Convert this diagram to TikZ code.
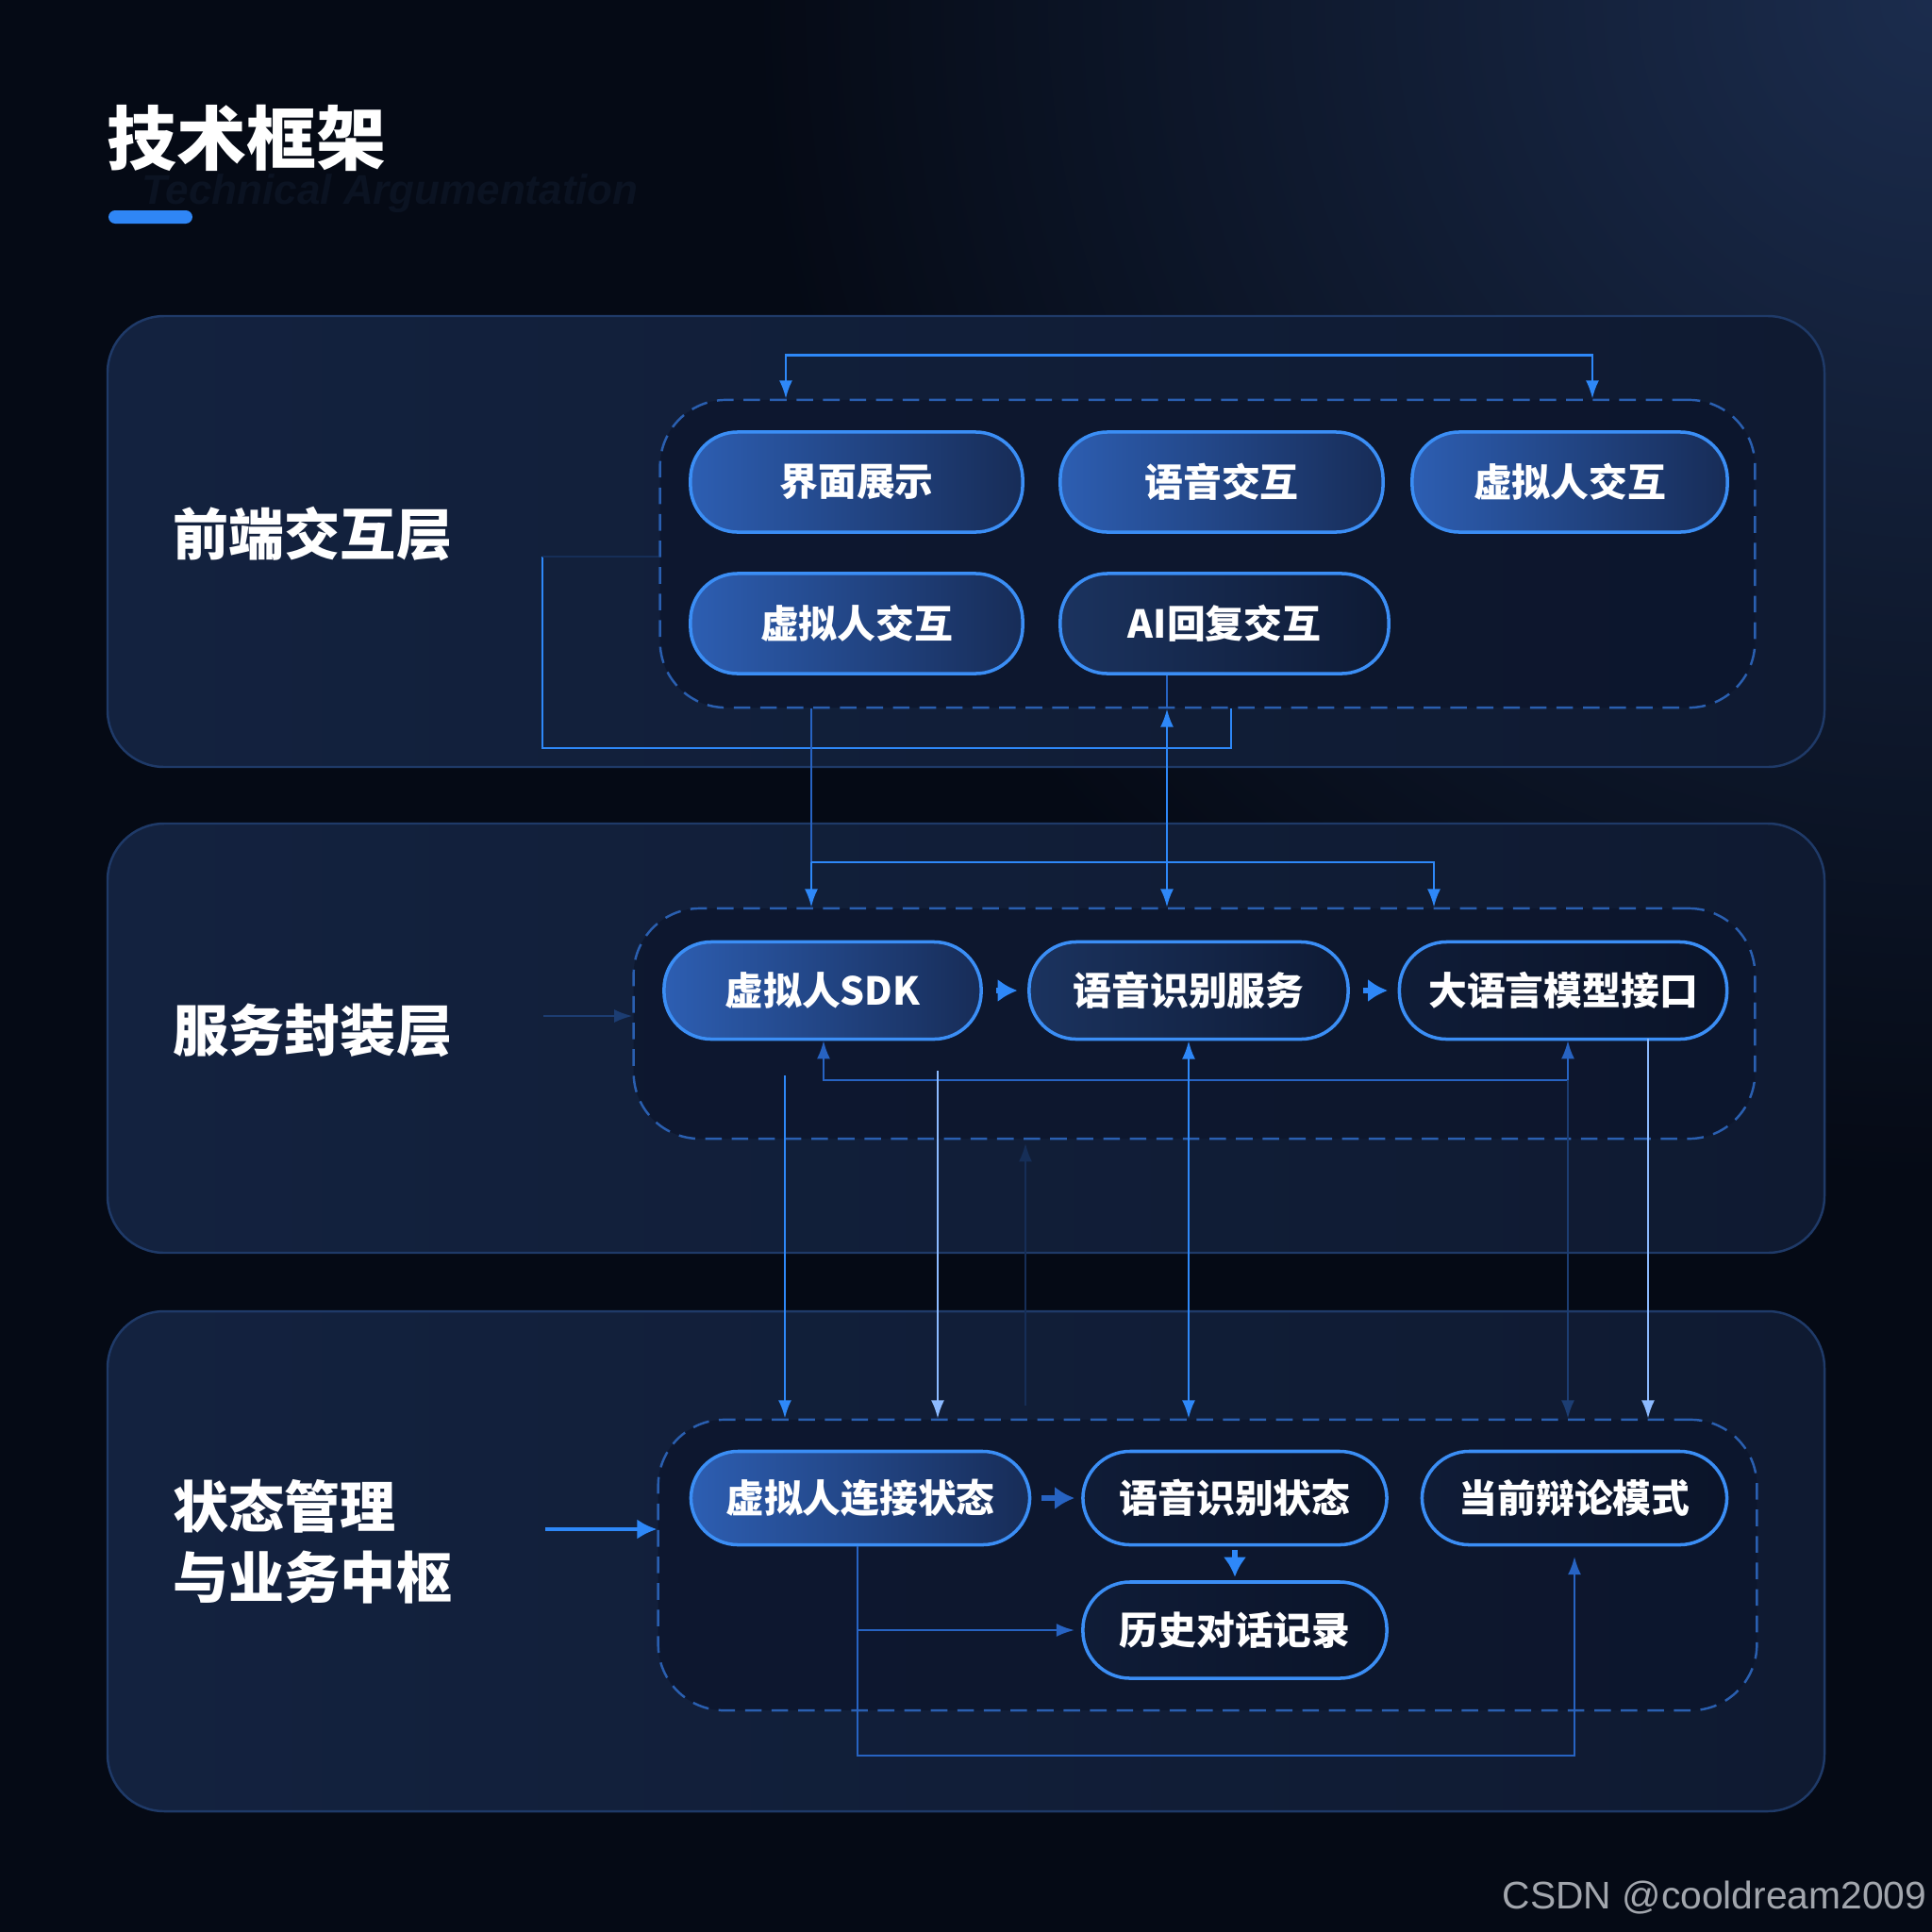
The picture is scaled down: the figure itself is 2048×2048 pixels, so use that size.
\documentclass[tikz,border=0pt]{standalone}
\usepackage{fontspec}
\setmainfont{Liberation Sans}
\newfontfamily\cjk{Noto Sans CJK SC}
\usetikzlibrary{arrows.meta,calc}
\definecolor{bgA}{HTML}{050A15}
\definecolor{bgGlow}{HTML}{1B2C4D}
\definecolor{panelL}{HTML}{13223F}
\definecolor{panelR}{HTML}{0F1A31}
\definecolor{panelEdge}{HTML}{1F3A68}
\definecolor{dashC}{HTML}{2A5FB0}
\definecolor{innerF}{HTML}{0C152B}
\definecolor{pillEdge}{HTML}{3B8EF5}
\definecolor{pillL}{HTML}{2D5EB2}
\definecolor{pillR}{HTML}{172C57}
\definecolor{pillDL}{HTML}{1B335F}
\definecolor{pillDR}{HTML}{0E1A34}
\definecolor{pillNL}{HTML}{0F1C37}
\definecolor{pillNR}{HTML}{0B1429}
\definecolor{lnBright}{HTML}{2E88F8}
\definecolor{lnMid}{HTML}{2763C2}
\definecolor{lnDim}{HTML}{1C3D72}
\definecolor{lnFaint}{HTML}{162E57}
\definecolor{lnLight}{HTML}{8CBAFF}
\definecolor{titleBar}{HTML}{2F86F6}
\definecolor{wmC}{HTML}{A2A6AD}
\definecolor{ghost}{HTML}{0B1322}
\tikzset{
  layerlabel/.style={anchor=west, inner sep=0pt, text=white, align=left,
    font=\cjk\bfseries\fontsize{16.8}{21.3}\selectfont},
  pillbase/.style={rounded corners=0.5cm, draw=pillEdge, line width=1pt,
    text=white, inner sep=0pt, font=\cjk\bfseries\fontsize{11.6}{14}\selectfont},
  pillblue/.style={pillbase, left color=pillL, right color=pillR},
  pilldark/.style={pillbase, left color=pillDL, right color=pillDR},
  pillnight/.style={pillbase, left color=pillNL, right color=pillNR},
  dbox/.style={draw=dashC, dash pattern=on 5pt off 3pt, line width=0.7pt,
    rounded corners=0.7cm, fill=innerF, fill opacity=0.7, draw opacity=1},
  panelbox/.style={rounded corners=0.6cm, left color=panelL, right color=panelR,
    draw=panelEdge, line width=0.7pt},
  tip/.style={-{Latex[length=5.5pt,width=4pt]}},
  tipboth/.style={{Latex[length=5.5pt,width=4pt]}-{Latex[length=5.5pt,width=4pt]}},
  lnB/.style={draw=lnBright, line width=0.7pt},
  lnM/.style={draw=lnMid, line width=0.7pt},
  lnD/.style={draw=lnDim, line width=0.7pt},
  lnF/.style={draw=lnFaint, line width=0.6pt},
  lnL/.style={draw=lnLight, line width=0.7pt},
  fat/.style={line width=1.6pt, -{Latex[length=6pt,width=7pt]}},
}
\begin{document}
\begin{tikzpicture}[x=0.01cm,y=-0.01cm]
\useasboundingbox (0,0) rectangle (2048,2048);
% background
\fill[bgA] (0,0) rectangle (2048,2048);
\begin{scope}
\clip (0,0) rectangle (2048,2048);
\shade[inner color=bgGlow, outer color=bgA] (2048,0) circle (1250);
\end{scope}

% title
\node[anchor=base west, inner sep=0pt, text=ghost, font=\bfseries\itshape\fontsize{12.5}{14}\selectfont] (ghosttext) at (150,216) {Technical Argumentation};
\node[anchor=west, inner sep=0pt, text=white, font=\cjk\bfseries\fontsize{21}{24}\selectfont] (title) at (113,146) {技术框架};
\fill[titleBar, rounded corners=2pt] (115,223) rectangle (204,237);

% panels
\path[panelbox] (114,335) rectangle (1934,813);
\path[panelbox] (114,873) rectangle (1934,1328);
\path[panelbox] (114,1390) rectangle (1934,1920);

% layer labels
\node[layerlabel] (L1) at (183,566) {前端交互层};
\node[layerlabel] (L2) at (183,1092) {服务封装层};
\node[layerlabel] (L3) at (183,1634) {状态管理\\与业务中枢};

% dashed groups
\node[dbox, minimum width=11.6cm, minimum height=3.26cm] (g1) at (1280,587) {};
\node[dbox, minimum width=11.88cm, minimum height=2.44cm] (g2) at (1266,1085) {};
\node[dbox, minimum width=11.64cm, minimum height=3.08cm] (g3) at (1280,1659) {};

% panel 1 nodes
\node[pillblue, minimum width=3.52cm, minimum height=1.06cm] (p1a) at (908,511) {界面展示};
\node[pillblue, minimum width=3.42cm, minimum height=1.06cm] (p1b) at (1295,511) {语音交互};
\node[pillblue, minimum width=3.34cm, minimum height=1.06cm] (p1c) at (1664,511) {虚拟人交互};
\node[pillblue, minimum width=3.52cm, minimum height=1.06cm] (p1d) at (908,661) {虚拟人交互};
\node[pilldark, minimum width=3.48cm, minimum height=1.06cm] (p1e) at (1298,661) {AI回复交互};

% panel 2 nodes
\node[pillblue, minimum width=3.36cm, minimum height=1.03cm] (p2a) at (872,1050) {虚拟人SDK};
\node[pilldark, minimum width=3.38cm, minimum height=1.03cm] (p2b) at (1260,1050) {语音识别服务};
\node[pillnight, minimum width=3.47cm, minimum height=1.03cm] (p2c) at (1657,1050) {大语言模型接口};

% panel 3 nodes
\node[pillblue, minimum width=3.59cm, minimum height=0.99cm] (p3a) at (912,1588) {虚拟人连接状态};
\node[pillnight, minimum width=3.22cm, minimum height=0.99cm] (p3b) at (1309,1588) {语音识别状态};
\node[pillnight, minimum width=3.23cm, minimum height=0.99cm] (p3c) at (1669,1588) {当前辩论模式};
\node[pillnight, minimum width=3.22cm, minimum height=1.02cm] (p3d) at (1309,1728) {历史对话记录};

% ---------- connectors panel 1
\coordinate (t1) at (g1.north -| 833,0);
\coordinate (t2) at (g1.north -| 1688,0);
\draw[lnB, tipboth] (t1) -- ++(0,-46) -| (t2);

\coordinate (l1) at (575,590);
\coordinate (l2) at (1305,793);
\coordinate (l3) at (g1.south -| l2);
\draw[lnB] (l1) |- (l2) -- (l3);
\draw[lnF] (l1) -- (g1.west |- l1);

\coordinate (v1) at (g1.south -| 1237,0);
\coordinate (v2) at (g2.north -| v1);
\draw[lnM] (p1e.south -| v1) -- (v1);
\draw[lnB, tipboth] (v1) -- (v2);

\coordinate (k1) at (g1.south -| 860,0);
\coordinate (k2) at (g2.north -| k1);
\coordinate (k3) at (860,914);
\coordinate (k4) at (g2.north -| 1520,0);
\draw[lnM] (k1) -- (k3);
\draw[lnB, tip] (k3) -- (k2);
\draw[lnB, tip] (k3) -| (k4);

% ---------- connectors panel 2
\draw[draw=lnBright, fat, shorten <=4pt, shorten >=3pt] (p2a.east) -- (p2b.west);
\draw[draw=lnBright, fat, shorten <=4pt, shorten >=3pt] (p2b.east) -- (p2c.west);
\coordinate (f1) at (576,1077);
\draw[lnD, tip] (f1) -- (g2.west |- f1);

\coordinate (b1) at (873,1103);
\coordinate (b2) at (1662,1103);
\coordinate (b3) at (1662,1145);
\draw[lnM, tipboth] (b1) -- ++(0,42) -| (b2);

\draw[lnB, tipboth] (p2b.south) -- (p2b.south |- g3.north);

\coordinate (d1) at (832,1140);
\draw[draw=lnBright, line width=0.8pt, tip] (d1) -- (d1 |- g3.north);
\coordinate (d2) at (994,1135);
\draw[lnL, tip] (d2) -- (d2 |- g3.north);
\coordinate (d3) at (1087,1490);
\coordinate (d4) at (1087,1212);
\draw[lnF, tip] (d3) -- (d4);
\draw[lnD, tip] (b3) -- (b3 |- g3.north);
\coordinate (d5) at (1747,1101);
\draw[lnL, tip] (d5) -- (d5 |- g3.north);

% ---------- connectors panel 3
\coordinate (e1) at (578,1621);
\draw[draw=lnBright, line width=1pt, -{Latex[length=6pt,width=6pt]}] (e1) -- (g3.west |- e1);
\draw[draw=lnMid, fat, shorten <=3pt, shorten >=2pt] (p3a.east) -- (p3b.west);
\draw[draw=lnBright, fat, shorten <=1pt, shorten >=1pt] (p3b.south) -- (p3d.north);
\coordinate (h1) at (909,1861);
\draw[lnM, tip, shorten >=3pt] (p3a.south -| h1) -- (h1) -| (p3c.south);
\coordinate (h2) at (909,1728);
\draw[lnM, tip, shorten >=2pt] (h2) -- (p3d.west);

% watermark
\node[anchor=east, inner sep=0pt, text=wmC, font=\fontsize{11.6}{13}\selectfont] (csdn) at (2043,2012) {CSDN @cooldream2009};
\end{tikzpicture}
\end{document}
